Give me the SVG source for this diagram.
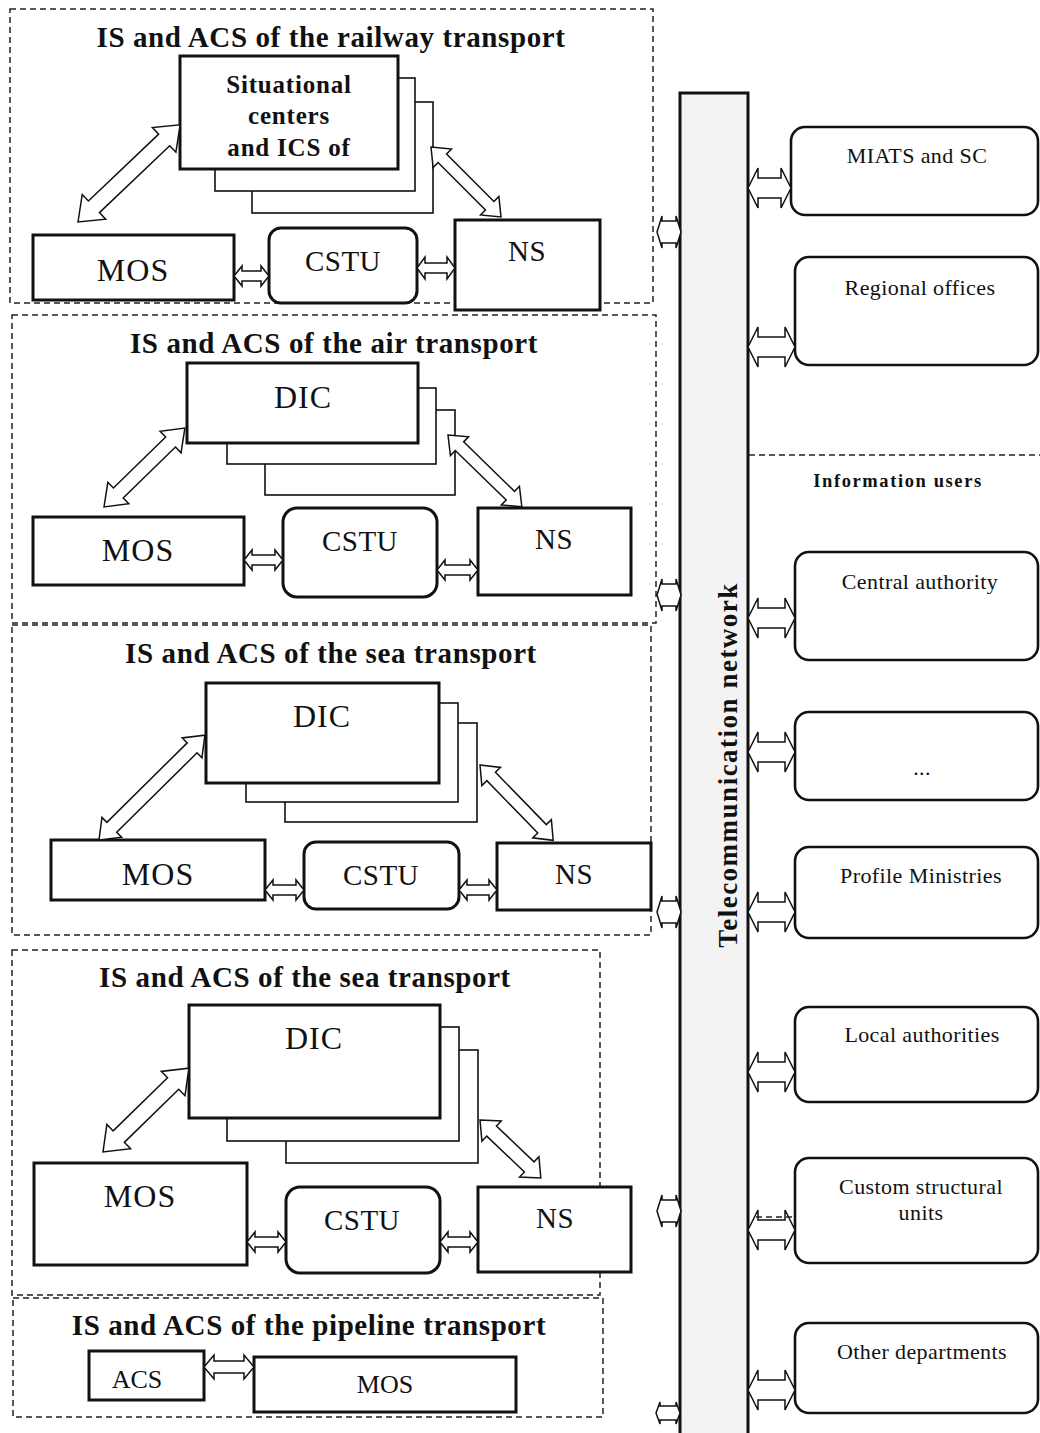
<svg xmlns="http://www.w3.org/2000/svg" width="1040" height="1433" viewBox="0 0 1040 1433">
<style>
.dash{fill:none;stroke:#222;stroke-width:1.5;stroke-dasharray:6 4}
.box{fill:#fff;stroke:#111;stroke-width:3}
.rbox{fill:#fff;stroke:#111;stroke-width:2.6}
.back{fill:#fff;stroke:#111;stroke-width:1.6}
.arr{fill:#fff;stroke:#111;stroke-width:1.5;stroke-linejoin:miter}
.bar{fill:#f3f3f3;stroke:#111;stroke-width:3}
text{font-family:"Liberation Serif","Times New Roman",serif;fill:#111;text-anchor:middle}
.title{font-weight:bold;font-size:29px;letter-spacing:0.6px}
.sit{font-weight:bold;font-size:25px;letter-spacing:0.8px}
.big{font-size:32px;letter-spacing:1px}
.mid{font-size:29px;letter-spacing:0.5px}
.pipe{font-size:26px}
.usr{font-size:22px;letter-spacing:0.4px}
.info{font-weight:bold;font-size:18.5px;letter-spacing:1.6px}
.net{font-weight:bold;font-size:27px;letter-spacing:1.5px}
</style>

<!-- section frames -->
<g id="frames">
<rect class="dash" x="10" y="9" width="643" height="294"/>
<rect class="dash" x="12" y="315" width="644" height="308"/>
<rect class="dash" x="12" y="625" width="639" height="310"/>
<rect class="dash" x="12" y="950" width="588" height="345"/>
<rect class="dash" x="13" y="1298" width="590" height="119"/>
<line class="dash" x1="749" y1="455" x2="1040" y2="455"/>
</g>

<!-- telecommunication network -->
<g id="telecom">
<rect class="bar" x="680" y="93" width="68" height="1345"/>
<text class="net" transform="translate(737,765) rotate(-90)">Telecommunication network</text>
</g>

<!-- railway -->
<g id="rail-title"><text class="title" x="331" y="47">IS and ACS of the railway transport</text></g>
<g id="rail-sc">
<rect class="back" x="252" y="102" width="181" height="111"/>
<rect class="back" x="215" y="78" width="200" height="113"/>
<rect class="box" x="180" y="56" width="218" height="113"/>
<text class="sit" x="289" y="93">Situational</text>
<text class="sit" x="289" y="124">centers</text>
<text class="sit" x="289" y="156">and ICS of</text>
</g>
<g id="rail-mos"><rect class="box" x="33" y="235" width="201" height="65"/><text class="big" x="133" y="281">MOS</text></g>
<g id="rail-cstu"><rect class="box" x="269" y="228" width="148" height="75" rx="12"/><text class="mid" x="343" y="271">CSTU</text></g>
<g id="rail-ns"><rect class="box" x="455" y="220" width="145" height="90"/><text class="mid" x="527" y="261">NS</text></g>

<!-- air -->
<g id="air-title"><text class="title" x="334" y="353">IS and ACS of the air transport</text></g>
<g id="air-dic">
<rect class="back" x="265" y="410" width="190" height="85"/>
<rect class="back" x="227" y="388" width="209" height="76"/>
<rect class="box" x="187" y="363" width="231" height="80"/>
<text class="big" x="303" y="408">DIC</text>
</g>
<g id="air-mos"><rect class="box" x="33" y="517" width="211" height="68"/><text class="big" x="138" y="561">MOS</text></g>
<g id="air-cstu"><rect class="box" x="283" y="508" width="154" height="89" rx="14"/><text class="mid" x="360" y="551">CSTU</text></g>
<g id="air-ns"><rect class="box" x="478" y="508" width="153" height="87"/><text class="mid" x="554" y="549">NS</text></g>

<!-- sea 1 -->
<g id="sea1-title"><text class="title" x="331" y="663">IS and ACS of the sea transport</text></g>
<g id="sea1-dic">
<rect class="back" x="285" y="723" width="192" height="99"/>
<rect class="back" x="246" y="703" width="212" height="99"/>
<rect class="box" x="206" y="683" width="233" height="100"/>
<text class="big" x="322" y="727">DIC</text>
</g>
<g id="sea1-mos"><rect class="box" x="51" y="840" width="214" height="60"/><text class="big" x="158" y="885">MOS</text></g>
<g id="sea1-cstu"><rect class="box" x="304" y="842" width="155" height="67" rx="12"/><text class="mid" x="381" y="885">CSTU</text></g>
<g id="sea1-ns"><rect class="box" x="497" y="843" width="154" height="67"/><text class="mid" x="574" y="884">NS</text></g>

<!-- sea 2 -->
<g id="sea2-title"><text class="title" x="305" y="987">IS and ACS of the sea transport</text></g>
<g id="sea2-dic">
<rect class="back" x="286" y="1050" width="192" height="113"/>
<rect class="back" x="227" y="1027" width="232" height="114"/>
<rect class="box" x="189" y="1005" width="251" height="113"/>
<text class="big" x="314" y="1049">DIC</text>
</g>
<g id="sea2-mos"><rect class="box" x="34" y="1163" width="213" height="102"/><text class="big" x="140" y="1207">MOS</text></g>
<g id="sea2-cstu"><rect class="box" x="286" y="1187" width="154" height="86" rx="14"/><text class="mid" x="362" y="1230">CSTU</text></g>
<g id="sea2-ns"><rect class="box" x="478" y="1187" width="153" height="85"/><text class="mid" x="555" y="1228">NS</text></g>

<!-- pipeline -->
<g id="pipe-title"><text class="title" x="309" y="1335">IS and ACS of the pipeline transport</text></g>
<g id="pipe-acs"><rect class="box" x="89" y="1351" width="115" height="49"/><text class="pipe" x="137" y="1388">ACS</text></g>
<g id="pipe-mos"><rect class="box" x="254" y="1357" width="262" height="55"/><text class="pipe" x="385" y="1393">MOS</text></g>

<!-- information users -->
<g id="info-title"><text class="info" x="898" y="487">Information users</text></g>
<g id="u-miats"><rect class="rbox" x="791" y="127" width="247" height="88" rx="14"/><text class="usr" x="917" y="163">MIATS and SC</text></g>
<g id="u-regional"><rect class="rbox" x="795" y="257" width="243" height="108" rx="14"/><text class="usr" x="920" y="295">Regional offices</text></g>
<g id="u-central"><rect class="rbox" x="795" y="552" width="243" height="108" rx="14"/><text class="usr" x="920" y="589">Central authority</text></g>
<g id="u-dots"><rect class="rbox" x="795" y="712" width="243" height="88" rx="14"/><text class="usr" x="922" y="775">...</text></g>
<g id="u-profile"><rect class="rbox" x="795" y="847" width="243" height="91" rx="14"/><text class="usr" x="921" y="883">Profile Ministries</text></g>
<g id="u-local"><rect class="rbox" x="795" y="1007" width="243" height="95" rx="14"/><text class="usr" x="922" y="1042">Local authorities</text></g>
<g id="u-custom"><rect class="rbox" x="795" y="1158" width="243" height="105" rx="14"/><text class="usr" x="921" y="1194">Custom structural</text><text class="usr" x="921" y="1220">units</text></g>
<g id="u-other"><rect class="rbox" x="795" y="1323" width="243" height="90" rx="14"/><text class="usr" x="922" y="1359">Other departments</text></g>

<!-- connectors -->
<g id="connectors">
<!-- diagonal -->
<path class="arr" transform="translate(78,222) rotate(-43.6)" d="M0,0 L22,-17 L22,-8 L119,-8 L119,-17 L141,0 L119,17 L119,8 L22,8 L22,17 Z"/>
<path class="arr" transform="translate(431,147) rotate(45)" d="M0,0 L16,-13 L16,-6 L83,-6 L83,-13 L99,0 L83,13 L83,6 L16,6 L16,13 Z"/>
<path class="arr" transform="translate(104,507) rotate(-44.3)" d="M0,0 L20,-15 L20,-7 L93,-7 L93,-15 L113,0 L93,15 L93,7 L20,7 L20,15 Z"/>
<path class="arr" transform="translate(448,435) rotate(44.2)" d="M0,0 L16,-13 L16,-6 L87,-6 L87,-13 L103,0 L87,13 L87,6 L16,6 L16,13 Z"/>
<path class="arr" transform="translate(99,840) rotate(-44.7)" d="M0,0 L18,-14 L18,-7 L131,-7 L131,-14 L149,0 L131,14 L131,7 L18,7 L18,14 Z"/>
<path class="arr" transform="translate(480,765) rotate(45.8)" d="M0,0 L16,-13 L16,-6 L89,-6 L89,-13 L105,0 L89,13 L89,6 L16,6 L16,13 Z"/>
<path class="arr" transform="translate(103,1152) rotate(-44.3)" d="M0,0 L22,-17 L22,-8 L98,-8 L98,-17 L120,0 L98,17 L98,8 L22,8 L22,17 Z"/>
<path class="arr" transform="translate(480,1120) rotate(43.6)" d="M0,0 L16,-14 L16,-7 L68,-7 L68,-14 L84,0 L68,14 L68,7 L16,7 L16,14 Z"/>
<!-- horizontal between nodes -->
<path class="arr" transform="translate(234,276)" d="M0,0 L8,-10 L8,-5 L27,-5 L27,-10 L35,0 L27,10 L27,5 L8,5 L8,10 Z"/>
<path class="arr" transform="translate(417,268)" d="M0,0 L8,-11 L8,-5 L30,-5 L30,-11 L38,0 L30,11 L30,5 L8,5 L8,11 Z"/>
<path class="arr" transform="translate(244,560)" d="M0,0 L8,-10 L8,-5 L31,-5 L31,-10 L39,0 L31,10 L31,5 L8,5 L8,10 Z"/>
<path class="arr" transform="translate(437,570)" d="M0,0 L8,-10 L8,-5 L33,-5 L33,-10 L41,0 L33,10 L33,5 L8,5 L8,10 Z"/>
<path class="arr" transform="translate(265,890)" d="M0,0 L8,-10 L8,-5 L31,-5 L31,-10 L39,0 L31,10 L31,5 L8,5 L8,10 Z"/>
<path class="arr" transform="translate(459,890)" d="M0,0 L8,-10 L8,-5 L30,-5 L30,-10 L38,0 L30,10 L30,5 L8,5 L8,10 Z"/>
<path class="arr" transform="translate(247,1242)" d="M0,0 L8,-10 L8,-5 L31,-5 L31,-10 L39,0 L31,10 L31,5 L8,5 L8,10 Z"/>
<path class="arr" transform="translate(440,1242)" d="M0,0 L8,-10 L8,-5 L30,-5 L30,-10 L38,0 L30,10 L30,5 L8,5 L8,10 Z"/>
<path class="arr" transform="translate(204,1367)" d="M0,0 L10,-12 L10,-6 L40,-6 L40,-12 L50,0 L40,12 L40,6 L10,6 L10,12 Z"/>
<!-- sections to network -->
<path class="arr" transform="translate(657,232)" d="M0,0 L5,-16 L5,-11 L19,-11 L19,-16 L24,0 L19,16 L19,11 L5,11 L5,16 Z"/>
<path class="arr" transform="translate(657,595)" d="M0,0 L5,-16 L5,-11 L19,-11 L19,-16 L24,0 L19,16 L19,11 L5,11 L5,16 Z"/>
<path class="arr" transform="translate(657,912)" d="M0,0 L5,-16 L5,-11 L19,-11 L19,-16 L24,0 L19,16 L19,11 L5,11 L5,16 Z"/>
<path class="arr" transform="translate(657,1211)" d="M0,0 L5,-16 L5,-11 L19,-11 L19,-16 L24,0 L19,16 L19,11 L5,11 L5,16 Z"/>
<path class="arr" transform="translate(656,1413)" d="M0,0 L4,-11 L4,-7 L20,-7 L20,-11 L24,0 L20,11 L20,7 L4,7 L4,11 Z"/>
<!-- network to users -->
<path class="arr" transform="translate(748,188)" d="M0,0 L10,-20 L10,-10 L33,-10 L33,-20 L43,0 L33,20 L33,10 L10,10 L10,20 Z"/>
<path class="arr" transform="translate(748,347)" d="M0,0 L10,-20 L10,-10 L37,-10 L37,-20 L47,0 L37,20 L37,10 L10,10 L10,20 Z"/>
<path class="arr" transform="translate(748,618)" d="M0,0 L10,-20 L10,-10 L37,-10 L37,-20 L47,0 L37,20 L37,10 L10,10 L10,20 Z"/>
<path class="arr" transform="translate(748,752)" d="M0,0 L10,-20 L10,-10 L37,-10 L37,-20 L47,0 L37,20 L37,10 L10,10 L10,20 Z"/>
<path class="arr" transform="translate(748,912)" d="M0,0 L10,-20 L10,-10 L37,-10 L37,-20 L47,0 L37,20 L37,10 L10,10 L10,20 Z"/>
<path class="arr" transform="translate(748,1072)" d="M0,0 L10,-20 L10,-10 L37,-10 L37,-20 L47,0 L37,20 L37,10 L10,10 L10,20 Z"/>
<path class="arr" transform="translate(748,1230)" d="M0,0 L10,-20 L10,-10 L37,-10 L37,-20 L47,0 L37,20 L37,10 L10,10 L10,20 Z"/>
<line class="dash" x1="756" y1="1217" x2="792" y2="1217"/>
<path class="arr" transform="translate(748,1390)" d="M0,0 L10,-20 L10,-10 L37,-10 L37,-20 L47,0 L37,20 L37,10 L10,10 L10,20 Z"/>
</g>
</svg>
